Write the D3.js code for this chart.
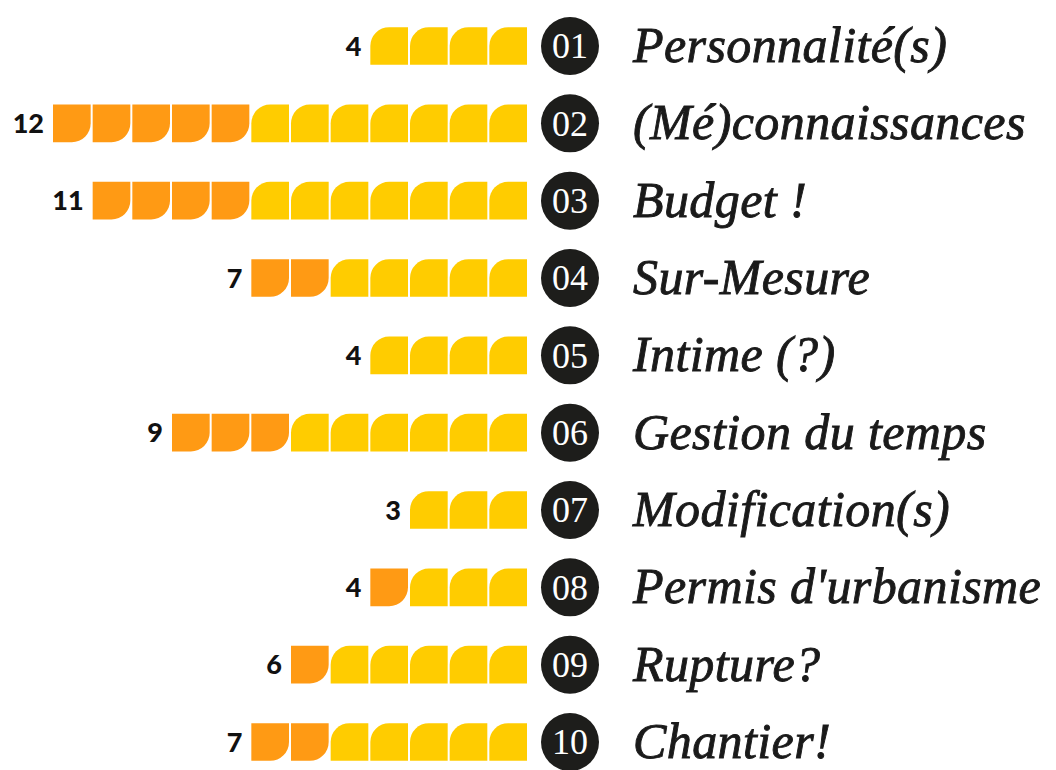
<!DOCTYPE html>
<html>
<head>
<meta charset="utf-8">
<script src="https://cdn.jsdelivr.net/npm/d3@7"></script>
<style>
  html, body { margin: 0; padding: 0; background: #fff; }
  .count { font-family: Lato, "Open Sans", sans-serif; font-weight: 900; font-size: 27px; fill: #111; }
  .num { font-family: "Liberation Serif", serif; font-size: 36px; fill: #fff; }
  .label { font-family: "Liberation Serif", serif; font-style: italic; font-size: 50px; letter-spacing: 0.4px; fill: #1a1a1a; stroke: #1a1a1a; stroke-width: 0.9px; }
</style>
</head>
<body>
<div id="chart"></div>
<script>
document.addEventListener('DOMContentLoaded', () => {

  const labels = ['Personnalité(s)', '(Mé)connaissances', 'Budget !', 'Sur-Mesure', 'Intime (?)',
                  'Gestion du temps', 'Modification(s)', "Permis d'urbanisme", 'Rupture?', 'Chantier!'];
  const numbers = ['01', '02', '03', '04', '05', '06', '07', '08', '09', '10'];
  const totals = [4, 12, 11, 7, 4, 9, 3, 4, 6, 7];
  const orangeCounts = [0, 5, 4, 2, 0, 3, 0, 1, 1, 2];

  const width = 1056;
  const height = 770;
  const yellow = '#ffcc00';
  const orange = '#ff9a14';

  const svg = d3.select('#chart')
                .append('svg')
                .attr('width', width)
                .attr('height', height);

  const yScale = d3.scalePoint()
                   .domain(numbers)
                   .range([46, 742]);

  // icons counted from the right edge, next to the circle
  const xScale = d3.scaleLinear()
                   .domain([0, 12])
                   .range([528, 52]);

  const step = xScale(0) - xScale(1);
  const size = step - 2;
  const r = size * 0.5;

  // yellow: rounded top-left, orange: rounded bottom-right
  function yellowPath(x, y) {
    return `M${x},${y + size} L${x},${y + r} A${r},${r} 0 0 1 ${x + r},${y} L${x + size},${y} L${x + size},${y + size} Z`;
  }
  function orangePath(x, y) {
    return `M${x},${y} L${x + size},${y} L${x + size},${y + size - r} A${r},${r} 0 0 1 ${x + size - r},${y + size} L${x},${y + size} Z`;
  }

  const icons = [];
  numbers.forEach((n, row) => {
    const nYellow = totals[row] - orangeCounts[row];
    for (let i = 0; i < totals[row]; i++) {
      icons.push({ row: n, i: i, type: i < nYellow ? 'y' : 'o' });
    }
  });

  svg.selectAll('path.icon')
     .data(icons)
     .enter()
     .append('path')
     .attr('class', 'icon')
     .attr('d', (d) => {
       const x = xScale(d.i + 1) + 1;
       const y = yScale(d.row) - size / 2;
       return d.type === 'y' ? yellowPath(x, y) : orangePath(x, y);
     })
     .style('fill', (d) => d.type === 'y' ? yellow : orange);

  svg.selectAll('text.count')
     .data(numbers)
     .enter()
     .append('text')
     .attr('class', 'count')
     .attr('x', (d, i) => xScale(totals[i]) - 8)
     .attr('y', (d) => yScale(d))
     .attr('dy', '0.36em')
     .attr('text-anchor', 'end')
     .text((d, i) => totals[i]);

  svg.selectAll('circle')
     .data(numbers)
     .enter()
     .append('circle')
     .attr('cx', 570)
     .attr('cy', (d) => yScale(d))
     .attr('r', 29)
     .style('fill', '#1d1d1b');

  svg.selectAll('text.num')
     .data(numbers)
     .enter()
     .append('text')
     .attr('class', 'num')
     .attr('x', 570)
     .attr('y', (d) => yScale(d))
     .attr('dy', '0.34em')
     .attr('text-anchor', 'middle')
     .text((d) => d);

  svg.selectAll('text.label')
     .data(numbers)
     .enter()
     .append('text')
     .attr('class', 'label')
     .attr('x', 633)
     .attr('y', (d) => yScale(d))
     .attr('dy', '0.32em')
     .text((d, i) => labels[i]);

});
</script>
</body>
</html>
